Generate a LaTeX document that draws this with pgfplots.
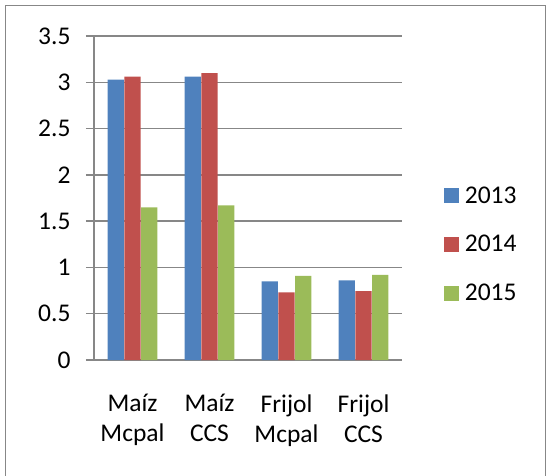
\documentclass[border=0pt]{standalone}
\usepackage{pgfplots}
\pgfplotsset{compat=1.18}
\usepackage{fontspec}
\setmainfont{Carlito}
\definecolor{c13}{HTML}{4F81BD}
\definecolor{c14}{HTML}{C0504D}
\definecolor{c15}{HTML}{9BBB59}
\definecolor{gridg}{HTML}{878787}
\begin{document}
\begin{tikzpicture}
\draw[gridg, line width=1.5bp] (5.5bp,-5.5bp) rectangle (545.5bp,-495bp);
\begin{axis}[
  at={(94bp,-360bp)}, anchor=south west,
  scale only axis, width=308bp, height=324bp,
  ymin=0, ymax=3.5, xmin=-0.5, xmax=3.5,
  ytick={0,0.5,...,3.5},
  xtick={0,1,2,3},
  xticklabels={Maíz\\Mcpal, Maíz\\CCS, Frijol\\Mcpal, Frijol\\CCS},
  major x tick style={draw=none},
  extra x ticks={-0.5,0.5,1.5,2.5,3.5},
  extra x tick labels={},
  extra x tick style={grid=none, major tick length=7bp, tick align=outside, major tick style={draw=gridg, line width=1.5bp}},
  axis x line*=bottom, axis y line*=left,
  axis line style={draw=gridg, line width=1.5bp, -},
  tick align=outside,
  major tick length=8bp,
  tick style={draw=gridg, line width=1.5bp},
  ymajorgrids,
  grid style={draw=gridg, line width=1.5bp},
  /pgf/number format/assume math mode=true,
  ticklabel style={font=\fontsize{25.5bp}{30bp}\selectfont},
  xticklabel style={align=center, yshift=-23bp},
  yticklabel style={xshift=-12bp},
  ybar=0.6bp, bar width=16.2bp,
  legend style={at={(1.136,0.535)}, anchor=north west, draw=none, fill=none,
    inner sep=0pt, outer sep=0pt,
    nodes={inner sep=0pt, text height=16.5bp, text depth=0pt, font=\fontsize{25.5bp}{32bp}\selectfont},
    column sep=6bp, row sep=32bp},
  legend cell align=left,
  legend image code/.code={\fill[#1] (0bp,-8.5bp) rectangle (15bp,6.5bp);},
]
\addplot[fill=c13, draw=none] coordinates {(0,3.03) (1,3.06) (2,0.85) (3,0.86)};
\addplot[fill=c14, draw=none] coordinates {(0,3.06) (1,3.10) (2,0.73) (3,0.745)};
\addplot[fill=c15, draw=none] coordinates {(0,1.65) (1,1.67) (2,0.91) (3,0.92)};
\legend{2013,2014,2015}
\end{axis}
\pgfresetboundingbox
\path[use as bounding box] (0,0) rectangle (547bp,-476bp);
\end{tikzpicture}
\end{document}
